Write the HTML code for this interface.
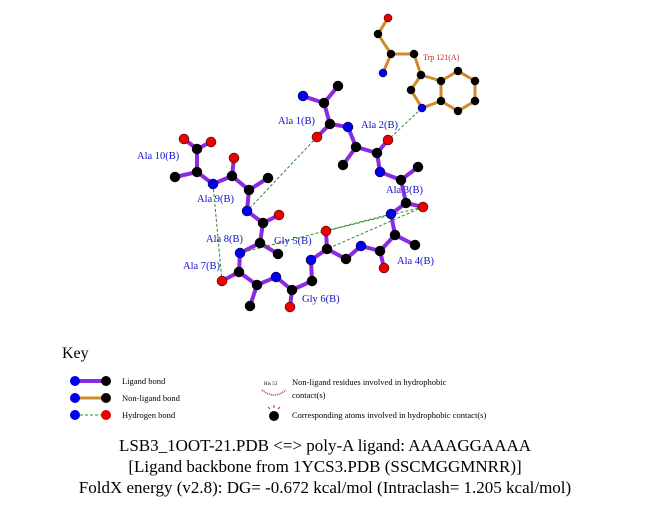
<!DOCTYPE html>
<html><head><meta charset="utf-8"><style>
body{margin:0;background:#fff;}
svg{display:block;font-family:"Liberation Serif",serif;}
</style></head><body>
<svg width="651" height="511" viewBox="0 0 651 511">
<g stroke="#d08a2c" stroke-width="3" fill="none">
<polyline points="388,18 378,34 391,54 383,73"/>
<polyline points="391,54 414,54 421,75 411,90 422,108 441,101 441,81 421,75"/>
<polyline points="441,81 458,71 475,81 475,101 458,111 441,101"/>
</g>
<g stroke="#8a2be2" stroke-width="4" fill="none" stroke-linecap="round">
<polyline points="303,96 324,103 338,86"/>
<polyline points="324,103 330,124 317,137"/>
<polyline points="330,124 348,127 356,147 343,165"/>
<polyline points="356,147 377,153 388,140"/>
<polyline points="377,153 380,172 401,180 418,167"/>
<polyline points="401,180 406,203 423,207"/>
<polyline points="406,203 391,214 395,235 415,245"/>
<polyline points="395,235 380,251 384,268"/>
<polyline points="380,251 361,246 346,259 327,249 326,231"/>
<polyline points="327,249 311,260 312,281 292,290 290,307"/>
<polyline points="292,290 276,277 257,285 250,306"/>
<polyline points="257,285 239,272 222,281"/>
<polyline points="239,272 240,253 260,243 278,254"/>
<polyline points="260,243 263,223 279,215"/>
<polyline points="263,223 247,211 249,190 268,178"/>
<polyline points="249,190 232,176 234,158"/>
<polyline points="232,176 213,184 197,172 175,177"/>
<polyline points="197,172 197,149 184,139"/>
<polyline points="197,149 211,142"/>
</g>
<g stroke="#2e8b2e" stroke-width="1" stroke-dasharray="3,2" fill="none">
<line x1="422" y1="108" x2="388" y2="140"/>
<line x1="317" y1="137" x2="247" y2="211"/>
<line x1="423" y1="207" x2="326" y2="231"/>
<line x1="423" y1="207" x2="327" y2="249"/>
<line x1="391" y1="214" x2="240" y2="253"/>
<line x1="213" y1="184" x2="222" y2="281"/>
</g>
<g stroke="#000" stroke-width="0.5">
<g fill="#000">
<circle cx="378" cy="34" r="4"/><circle cx="391" cy="54" r="4"/><circle cx="414" cy="54" r="4"/><circle cx="421" cy="75" r="4"/><circle cx="411" cy="90" r="4"/><circle cx="441" cy="101" r="4"/><circle cx="441" cy="81" r="4"/><circle cx="458" cy="71" r="4"/><circle cx="475" cy="81" r="4"/><circle cx="475" cy="101" r="4"/><circle cx="458" cy="111" r="4"/>
<circle cx="324" cy="103" r="5"/><circle cx="338" cy="86" r="5"/><circle cx="330" cy="124" r="5"/><circle cx="356" cy="147" r="5"/><circle cx="343" cy="165" r="5"/><circle cx="377" cy="153" r="5"/><circle cx="401" cy="180" r="5"/><circle cx="418" cy="167" r="5"/><circle cx="406" cy="203" r="5"/><circle cx="395" cy="235" r="5"/><circle cx="415" cy="245" r="5"/><circle cx="380" cy="251" r="5"/><circle cx="346" cy="259" r="5"/><circle cx="327" cy="249" r="5"/><circle cx="312" cy="281" r="5"/><circle cx="292" cy="290" r="5"/><circle cx="257" cy="285" r="5"/><circle cx="250" cy="306" r="5"/><circle cx="239" cy="272" r="5"/><circle cx="260" cy="243" r="5"/><circle cx="278" cy="254" r="5"/><circle cx="263" cy="223" r="5"/><circle cx="249" cy="190" r="5"/><circle cx="268" cy="178" r="5"/><circle cx="232" cy="176" r="5"/><circle cx="197" cy="172" r="5"/><circle cx="175" cy="177" r="5"/><circle cx="197" cy="149" r="5"/>
</g>
<g fill="#0000ee">
<circle cx="383" cy="73" r="4"/><circle cx="422" cy="108" r="4"/>
<circle cx="303" cy="96" r="5"/><circle cx="348" cy="127" r="5"/><circle cx="380" cy="172" r="5"/><circle cx="391" cy="214" r="5"/><circle cx="361" cy="246" r="5"/><circle cx="311" cy="260" r="5"/><circle cx="276" cy="277" r="5"/><circle cx="240" cy="253" r="5"/><circle cx="247" cy="211" r="5"/><circle cx="213" cy="184" r="5"/>
</g>
<g fill="#ee0000">
<circle cx="388" cy="18" r="4"/>
<circle cx="317" cy="137" r="5"/><circle cx="388" cy="140" r="5"/><circle cx="423" cy="207" r="5"/><circle cx="384" cy="268" r="5"/><circle cx="326" cy="231" r="5"/><circle cx="290" cy="307" r="5"/><circle cx="222" cy="281" r="5"/><circle cx="279" cy="215" r="5"/><circle cx="234" cy="158" r="5"/><circle cx="184" cy="139" r="5"/><circle cx="211" cy="142" r="5"/>
</g>
</g>
<text x="423" y="60" font-size="8" fill="#cc2222">Trp 121(A)</text>
<g font-size="10.5" fill="#1010cc">
<text x="278" y="124">Ala 1(B)</text>
<text x="361" y="128">Ala 2(B)</text>
<text x="386" y="193">Ala 3(B)</text>
<text x="397" y="264">Ala 4(B)</text>
<text x="274" y="244">Gly 5(B)</text>
<text x="302" y="302">Gly 6(B)</text>
<text x="183" y="269">Ala 7(B)</text>
<text x="206" y="242">Ala 8(B)</text>
<text x="197" y="202">Ala 9(B)</text>
<text x="137" y="159">Ala 10(B)</text>
</g>
<text x="62" y="358" font-size="16">Key</text>
<line x1="75" y1="381" x2="106" y2="381" stroke="#8a2be2" stroke-width="4"/>
<circle cx="75" cy="381" r="5" fill="#0000ee"/><circle cx="106" cy="381" r="5" fill="#000"/>
<line x1="75" y1="398" x2="106" y2="398" stroke="#d08a2c" stroke-width="3"/>
<circle cx="75" cy="398" r="5" fill="#0000ee"/><circle cx="106" cy="398" r="5" fill="#000"/>
<line x1="75" y1="415" x2="106" y2="415" stroke="#2e8b2e" stroke-width="1" stroke-dasharray="3,2"/>
<circle cx="75" cy="415" r="5" fill="#0000ee"/><circle cx="106" cy="415" r="5" fill="#ee0000"/>
<g font-size="8.5">
<text x="122" y="384">Ligand bond</text>
<text x="122" y="401">Non-ligand bond</text>
<text x="122" y="418">Hydrogen bond</text>
<text x="292" y="385">Non-ligand residues involved in hydrophobic</text>
<text x="292" y="398">contact(s)</text>
<text x="292" y="418">Corresponding atoms involved in hydrophobic contact(s)</text>
</g>
<text x="264" y="385" font-size="5">His 53</text>
<path d="M262,390 Q274,400 286,390" stroke="#cc2222" stroke-width="1.5" fill="none" stroke-dasharray="1,1"/>
<circle cx="274" cy="416" r="5" fill="#000"/>
<path d="M268,407 L270,409 M274,405 L274,408 M280,407 L278,409" stroke="#cc2222" stroke-width="1"/>
<g font-size="17" text-anchor="middle">
<text x="325" y="451">LSB3_1OOT-21.PDB &lt;=&gt; poly-A ligand: AAAAGGAAAA</text>
<text x="325" y="472">[Ligand backbone from 1YCS3.PDB (SSCMGGMNRR)]</text>
<text x="325" y="493">FoldX energy (v2.8): DG= -0.672 kcal/mol (Intraclash= 1.205 kcal/mol)</text>
</g>
</svg>
</body></html>
